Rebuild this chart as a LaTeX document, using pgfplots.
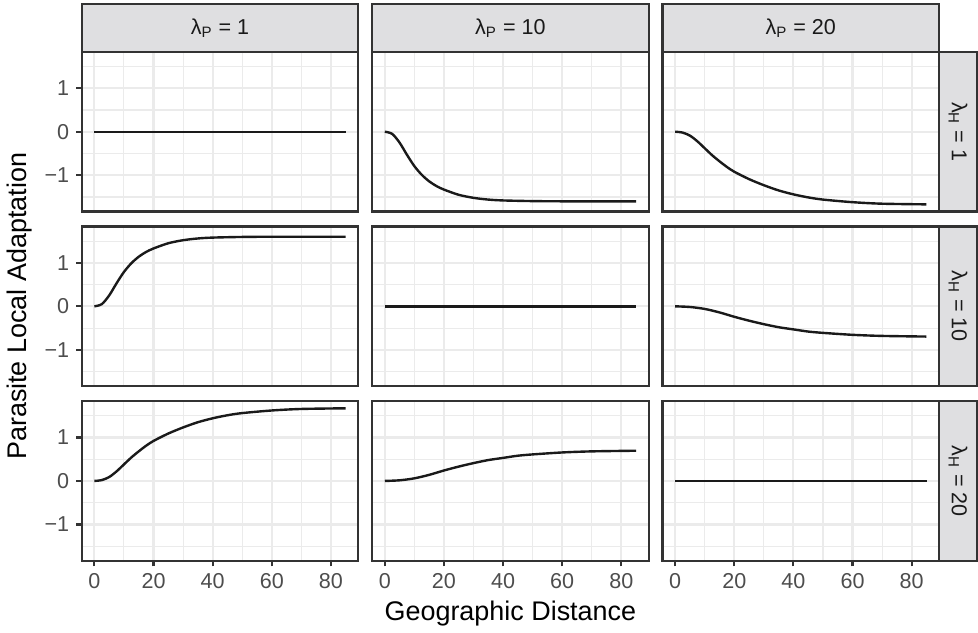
\documentclass[border=0pt]{standalone}
\usepackage{fontspec}
\setmainfont{Liberation Sans}
\usepackage{pgfplots}
\usepgfplotslibrary{groupplots}
\pgfplotsset{compat=1.18}
\definecolor{grey10}{HTML}{1A1A1A}
\definecolor{grey20}{HTML}{333333}
\definecolor{grey30}{HTML}{4D4D4D}
\definecolor{grey92}{HTML}{EBEBEB}
\definecolor{stripfill}{HTML}{DFDFE1}

\begin{document}
\begin{tikzpicture}
\begin{groupplot}[
  group style={group size=3 by 3, horizontal sep=7pt, vertical sep=7.5pt},
  scale only axis, width=138.5pt, height=80pt,
  xmin=-4.25, xmax=89.25, ymin=-1.835, ymax=1.835,
  xtick={0,20,40,60,80}, minor xtick={10,30,50,70},
  ytick={-1,0,1}, yticklabels={−1,0,1}, minor ytick={-1.5,-0.5,0.5,1.5},
  grid=both,
  major grid style={grey92, line width=1.1pt},
  minor grid style={grey92, line width=0.55pt},
  axis line style={grey20, line width=1.1pt},
  tick align=outside, major tick length=2.8pt, minor tick length=0pt,
  tick style={grey20, line width=1.1pt},
  xtick pos=left, ytick pos=left,
  /pgf/number format/assume math mode=true,
  ticklabel style={font=\fontsize{10.8}{12}\selectfont, text=grey30},
  curve/.style={grey10, line width=1.2pt, no markers, smooth, line join=round},
  noxt/.style={xticklabels={}, xmajorticks=false},
  noyt/.style={yticklabels={}, ymajorticks=false},
]
% row 1: lambda_H = 1
\nextgroupplot[noxt]
\addplot[curve] coordinates {(0,0) (85,0)};
\nextgroupplot[noxt, noyt]
\addplot[curve] coordinates {(0,0) (2.5,-0.05) (5,-0.25) (7.5,-0.53) (10,-0.79) (12.5,-0.99) (15,-1.14) (17.5,-1.25) (20,-1.33) (25,-1.45) (30,-1.52) (35,-1.56) (40,-1.58) (50,-1.595) (60,-1.60) (70,-1.60) (85,-1.60)};
\nextgroupplot[noxt, noyt]
\addplot[curve] coordinates {(0,0) (2.5,-0.02) (5,-0.09) (7.5,-0.22) (10,-0.38) (12.5,-0.54) (15,-0.68) (17.5,-0.81) (20,-0.92) (25,-1.09) (30,-1.23) (35,-1.35) (40,-1.44) (45,-1.51) (50,-1.56) (60,-1.62) (70,-1.655) (85,-1.67)};
% row 2: lambda_H = 10
\nextgroupplot[noxt]
\addplot[curve] coordinates {(0,0) (2.5,0.05) (5,0.25) (7.5,0.53) (10,0.79) (12.5,0.99) (15,1.14) (17.5,1.25) (20,1.33) (25,1.45) (30,1.52) (35,1.56) (40,1.58) (50,1.595) (60,1.60) (70,1.60) (85,1.60)};
\nextgroupplot[noxt, noyt]
\addplot[curve] coordinates {(0,0) (85,0)};
\nextgroupplot[noxt, noyt]
\addplot[curve] coordinates {(0,0) (5,-0.015) (10,-0.06) (15,-0.14) (20,-0.24) (25,-0.33) (30,-0.41) (35,-0.48) (40,-0.53) (45,-0.58) (50,-0.61) (60,-0.655) (70,-0.68) (85,-0.695)};
% row 3: lambda_H = 20
\nextgroupplot[]
\addplot[curve] coordinates {(0,0) (2.5,0.02) (5,0.09) (7.5,0.22) (10,0.38) (12.5,0.54) (15,0.68) (17.5,0.81) (20,0.92) (25,1.09) (30,1.23) (35,1.35) (40,1.44) (45,1.51) (50,1.56) (60,1.62) (70,1.655) (85,1.67)};
\nextgroupplot[noyt]
\addplot[curve] coordinates {(0,0) (5,0.015) (10,0.06) (15,0.14) (20,0.24) (25,0.33) (30,0.41) (35,0.48) (40,0.53) (45,0.58) (50,0.61) (60,0.655) (70,0.68) (85,0.695)};
\nextgroupplot[noyt]
\addplot[curve] coordinates {(0,0) (85,0)};
\end{groupplot}

% facet strips
\foreach \c/\lab in {1/1,2/10,3/20} {
  \draw[grey20, line width=1.1pt, fill=stripfill] (group c\c r1.north west) rectangle ([yshift=24pt]group c\c r1.north east);
  \node[font=\fontsize{10.8}{12}\selectfont, text=grey10] at ([yshift=12pt]group c\c r1.north) {λ\textsubscript{P} = \lab};
}
\foreach \r/\lab in {1/1,2/10,3/20} {
  \draw[grey20, line width=1.1pt, fill=stripfill] (group c3r\r.north east) rectangle ([xshift=19pt]group c3r\r.south east);
  \node[rotate=-90, font=\fontsize{10.8}{12}\selectfont, text=grey10] at ([xshift=9.5pt]group c3r\r.east) {λ\textsubscript{H} = \lab};
}

% axis titles
\node[rotate=90, font=\fontsize{13.5}{15}\selectfont] at ([xshift=-31pt]group c1r2.west) {Parasite Local Adaptation};
\node[font=\fontsize{13.5}{15}\selectfont] at ([yshift=-26.5pt]group c2r3.south) {Geographic Distance};

\path ([xshift=-41pt,yshift=26pt]group c1r1.north west) rectangle ([xshift=19pt,yshift=-35pt]group c3r3.south east);
\end{tikzpicture}
\end{document}
